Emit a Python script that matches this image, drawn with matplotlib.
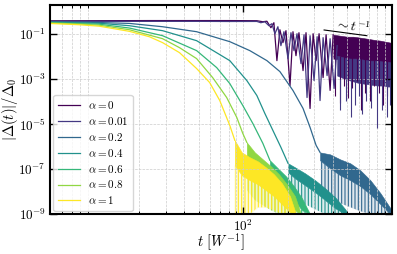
import numpy as np
import matplotlib
matplotlib.use('Agg')
import matplotlib.pyplot as plt
from matplotlib.ticker import NullFormatter, NullLocator

plt.rcParams['mathtext.fontset'] = 'cm'
plt.rcParams['font.family'] = 'serif'
plt.rcParams['font.serif'] = ['DejaVu Serif']
plt.rcParams['hatch.linewidth'] = 0.8

alphas = ['0', '0.01', '0.2', '0.4', '0.6', '0.8', '1']
colors = plt.cm.viridis(np.linspace(0, 1, len(alphas)))

# alpha = 0 : plateau, sparse oscillations, then dense band + spikes
a0_t = [5.0, 23.3, 50.8, 81.1, 123.4, 135.4, 144.2, 153.4, 160.7, 168.4, 176.4, 184.9, 193.8, 206.3,
        216.0, 226.3, 237.0, 252.5, 264.4, 281.5, 295.1, 309.1, 323.7, 344.5, 360.9, 384.1, 402.6]
a0_v = [0.38, 0.39, 0.39, 0.39, 0.384, 0.346, 0.365, 0.188, 0.313, 0.0065, 0.153, 0.041, 0.139, 5.1e-4,
        0.125, 0.0108, 0.113, 0.00235, 0.113, 4.9e-5, 0.102, 0.0065, 0.102, 1.15e-3, 0.092, 3.1e-4, 0.092]
a0_band_t = [402.6, 449.0, 500.7, 550.0, 613.3, 683.8, 751.2, 837.6, 905.6, 977.2, 1000]
a0_band_hi = [0.092, 0.083, 0.075, 0.075, 0.068, 0.061, 0.055, 0.050, 0.045, 0.041, 0.037]
a0_band_lo = [0.0080, 0.0075, 0.0070, 0.0065, 0.0060, 0.0055, 0.0053, 0.0050, 0.0048, 0.0045, 0.0042]
a0_spk_t = [415.3, 449.0, 477.5, 508.2, 540.8, 585.2, 622.2, 662.4, 716.7, 761.8, 823.3, 877.9, 934.2]
a0_spk_v = [1.84e-4, 8.2e-5, 5.1e-4, 1.5e-4, 3.8e-4, 8.5e-4, 4.0e-5, 2.5e-4, 1.1e-4, 5.1e-4, 2.5e-4, 6.7e-5, 1.84e-4]

# alpha = 0.01
a1_t = [5.0, 23.3, 50.8, 81.1, 123.4, 131.3, 139.7, 148.7, 155.8, 163.3, 171.0, 179.2, 187.8, 200.0, 209.4,
        219.4, 229.9, 244.6, 256.4, 268.6, 281.5, 299.5, 314.0, 328.6, 344.5, 366.5, 384.1, 408.7, 428.4]
a1_v = [0.36, 0.36, 0.36, 0.355, 0.357, 0.313, 0.346, 0.231, 0.283, 0.102, 0.208, 0.030, 0.125, 0.0080, 0.113,
        0.0181, 0.102, 0.0048, 0.092, 1.5e-4, 0.083, 8.5e-4, 0.075, 1.1e-4, 0.068, 0.00141, 0.061, 3.8e-4, 0.030]
a1_band_t = [428.4, 477.5, 524.8, 585.2, 642.8, 716.7, 799.1, 877.9, 934.2, 1000]
a1_band_hi = [0.0108, 0.0089, 0.0080, 0.0080, 0.0072, 0.0065, 0.0065, 0.0059, 0.0059, 0.0053]
a1_band_lo = [0.00141, 1.04e-3, 8.5e-4, 6.9e-4, 6.25e-4, 5.65e-4, 5.1e-4, 5.1e-4, 4.6e-4, 4.6e-4]
a1_spk_t = [449.0, 492.8, 532.6, 566.8, 603.3, 632.0, 672.5, 727.1, 799.1, 862.5, 934.2, 977.2]
a1_spk_v = [4.0e-5, 1.1e-4, 1.96e-5, 6.7e-5, 1.84e-4, 2.9e-5, 1.1e-4, 4.9e-5, 6.4e-6, 4.0e-5, 1.96e-5, 6.7e-5]

# alpha = 0.2
a2_t = [5.0, 7.86, 10.7, 17.1, 28.6, 48.5, 81.1, 110.6, 144.2, 176.4, 216.0, 252.5, 281.5, 309.1, 328.6]
a2_v = [0.346, 0.336, 0.319, 0.292, 0.208, 0.125, 0.0452, 0.0181, 0.0065, 0.00212, 3.07e-4, 4.9e-5, 7.1e-6,
        1.13e-6, 5.5e-7]
a2_band_t = [328.6, 384.1, 449.0, 524.8, 613.3, 716.7, 837.6, 977.2, 1000]
a2_band_hi = [5.5e-7, 4.5e-7, 2.7e-7, 1.81e-7, 8.85e-8, 3.2e-8, 8.5e-9, 1.84e-9, 1.36e-9]
a2_band_lo = [2.45e-7, 1.08e-7, 5.3e-8, 3.2e-8, 1.73e-8, 7.7e-9, 2.77e-9, 1e-9, 1e-9]
a2_band_tip = [1.15e-8, 5.1e-9, 3.07e-9, 2.04e-9, 1.36e-9, 1e-9, 1e-9, 1e-9, 1e-9]

# alpha = 0.4
a4_t = [5.0, 7.86, 10.7, 17.1, 28.6, 48.5, 81.1, 105.6, 123.4, 139.7, 158.2, 179.2, 200.0]
a4_v = [0.33, 0.313, 0.297, 0.231, 0.139, 0.05, 0.0065, 8.5e-4, 1.84e-4, 2.94e-5, 5.2e-6, 9.2e-7, 1.81e-7]
a4_band_t = [200.0, 222.8, 260.4, 304.4, 355.3, 415.3, 485.4, 508.2]
a4_band_hi = [1.81e-7, 1.2e-7, 6.5e-8, 3.2e-8, 1.41e-8, 5.65e-9, 1.66e-9, 1e-9]
a4_band_lo = [7.2e-8, 3.9e-8, 1.92e-8, 9.4e-9, 4.2e-9, 1.84e-9, 1e-9, 1e-9]
a4_band_tip = [1.15e-8, 5.65e-9, 2.77e-9, 1.66e-9, 1e-9, 1e-9, 1e-9, 1e-9]

# alpha = 0.6
a6_t = [5.0, 7.86, 10.7, 17.1, 28.6, 48.5, 66.2, 81.1, 99.2, 115.9, 135.4, 151.0]
a6_v = [0.313, 0.288, 0.269, 0.182, 0.0832, 0.0181, 0.00319, 6.25e-4, 6.65e-5, 1.06e-5, 1.39e-6, 2.45e-7]
a6_band_t = [151.0, 171.0, 193.8, 219.4, 248.5, 281.5]
a6_band_hi = [2.45e-7, 1.08e-7, 4.8e-8, 1.73e-8, 5.1e-9, 1e-9]
a6_band_lo = [8.85e-8, 3.2e-8, 1.15e-8, 4.2e-9, 1.5e-9, 1e-9]
a6_band_tip = [1.15e-8, 4.2e-9, 1.84e-9, 1e-9, 1e-9, 1e-9]

# alpha = 0.8
a8_t = [5.0, 7.86, 10.7, 17.1, 28.6, 37.2, 48.5, 62.2, 77.3, 90.4, 99.2, 105.6]
a8_v = [0.303, 0.274, 0.243, 0.153, 0.0614, 0.0245, 0.0080, 1.15e-3, 1.5e-4, 1.96e-5, 3.84e-6, 1.53e-6]
a8_band_t = [105.6, 119.6, 135.4, 153.4, 173.8, 196.8, 222.8, 244.6]
a8_band_hi = [1.53e-6, 5.5e-7, 2.7e-7, 1.33e-7, 5.9e-8, 2.1e-8, 6.25e-9, 1e-9]
a8_band_lo = [2.45e-7, 8.85e-8, 4.3e-8, 2.1e-8, 9.4e-9, 3.76e-9, 1.5e-9, 1e-9]
a8_band_tip = [1.15e-8, 4.2e-9, 2.5e-9, 1.5e-9, 1e-9, 1e-9, 1e-9, 1e-9]

# alpha = 1
a10_t = [5.0, 7.86, 10.7, 17.1, 23.3, 28.6, 37.2, 48.5, 59.4, 69.4, 81.1, 87.7]
a10_v = [0.29, 0.255, 0.22, 0.13, 0.075, 0.041, 0.0147, 0.0029, 6.9e-4, 1.11e-4, 8.7e-6, 1.88e-6]
a10_band_t = [87.7, 97.7, 110.6, 125.3, 141.9, 160.7, 182.0, 206.3, 226.3]
a10_band_hi = [1.88e-6, 5.5e-7, 3.33e-7, 2.21e-7, 1.2e-7, 5.9e-8, 2.35e-8, 6.25e-9, 1e-9]
a10_band_lo = [1.47e-7, 5.3e-8, 3.2e-8, 2.1e-8, 1.15e-8, 6.25e-9, 2.77e-9, 1.22e-9, 1e-9]
a10_band_tip = [1e-9, 1e-9, 1e-9, 2e-9, 2e-9, 1.5e-9, 1e-9, 1e-9, 1e-9]

# ~ t^-1 guide
slope_t = [350, 679]
slope_v = [0.149, 0.083]

x_major = [100]
x_minor = [6, 7, 8, 9, 20, 30, 40, 50, 60, 70, 80, 90, 200, 300, 400, 500, 600, 700, 800, 900]
y_major = [1e-9, 1e-7, 1e-5, 1e-3, 1e-1]
y_labels = [r'$10^{-9}$', r'$10^{-7}$', r'$10^{-5}$', r'$10^{-3}$', r'$10^{-1}$']

lines = [(a0_t, a0_v), (a1_t, a1_v), (a2_t, a2_v), (a4_t, a4_v), (a6_t, a6_v), (a8_t, a8_v), (a10_t, a10_v)]
bands = [(a0_band_t, a0_band_lo, a0_band_hi, None), (a1_band_t, a1_band_lo, a1_band_hi, None),
         (a2_band_t, a2_band_lo, a2_band_hi, a2_band_tip), (a4_band_t, a4_band_lo, a4_band_hi, a4_band_tip),
         (a6_band_t, a6_band_lo, a6_band_hi, a6_band_tip), (a8_band_t, a8_band_lo, a8_band_hi, a8_band_tip),
         (a10_band_t, a10_band_lo, a10_band_hi, a10_band_tip)]
spikes = {0: (a0_spk_t, a0_spk_v, 0.01), 1: (a1_spk_t, a1_spk_v, 0.001)}

fig, ax = plt.subplots(figsize=(3.97, 2.54), dpi=100)
fig.subplots_adjust(left=0.126, right=0.987, bottom=0.157, top=0.980)

for i, a in enumerate(alphas):
    c = colors[i]
    t, v = lines[i]
    ax.plot(t, v, color=c, lw=0.9, label=r'$\alpha = %s$' % a)
    bt, lo, hi, tip = bands[i]
    ax.fill_between(bt, lo, hi, color=c, lw=0.4, edgecolor=c)
    if tip is not None:
        # spiky fringe below the solid part
        ax.fill_between(bt, tip, lo, color=c, lw=0, alpha=0.15)
        ax.fill_between(bt, tip, lo, facecolor='none', edgecolor=c, lw=0, hatch='|||||')
    if i in spikes:
        st, sv, top = spikes[i]
        ax.vlines(st, sv, top, color=c, lw=0.8)

ax.plot(slope_t, slope_v, color='k', lw=0.8)
ax.text(543, 0.21, r'$\sim t^{-1}$', rotation=-7, ha='center', va='center', fontsize=10)

ax.set_xscale('log')
ax.set_yscale('log')
ax.set_xlim(5, 1000)
ax.set_ylim(1e-9, 1.9)
ax.set_xticks(x_major)
ax.set_xticklabels([r'$10^{2}$'])
ax.set_xticks(x_minor, minor=True)
ax.xaxis.set_minor_formatter(NullFormatter())
ax.set_yticks(y_major)
ax.set_yticklabels(y_labels)
ax.yaxis.set_minor_locator(NullLocator())
ax.tick_params(which='both', direction='in', top=True, right=True, labelsize=9.5, pad=3)
ax.tick_params(which='major', length=5, width=1)
ax.tick_params(which='minor', length=2.5, width=0.7)
ax.grid(which='major', ls='--', lw=0.5, color='#cccccc')
ax.grid(which='minor', axis='x', ls='--', lw=0.5, color='#cccccc')
for s in ax.spines.values():
    s.set_linewidth(1.5)

ax.set_xlabel(r'$t\ [W^{-1}]$', fontsize=10.5)
ax.xaxis.set_label_coords(0.5, -0.085)
ax.set_ylabel(r'$|\Delta(t)|/\Delta_0$', fontsize=10.5)
ax.yaxis.set_label_coords(-0.088, 0.5)
ax.legend(loc='lower left', fontsize=8, labelspacing=0.35, handlelength=2.0,
          handletextpad=0.7, borderaxespad=0.3, framealpha=0.8)

fig.savefig('out.png', dpi=100)
